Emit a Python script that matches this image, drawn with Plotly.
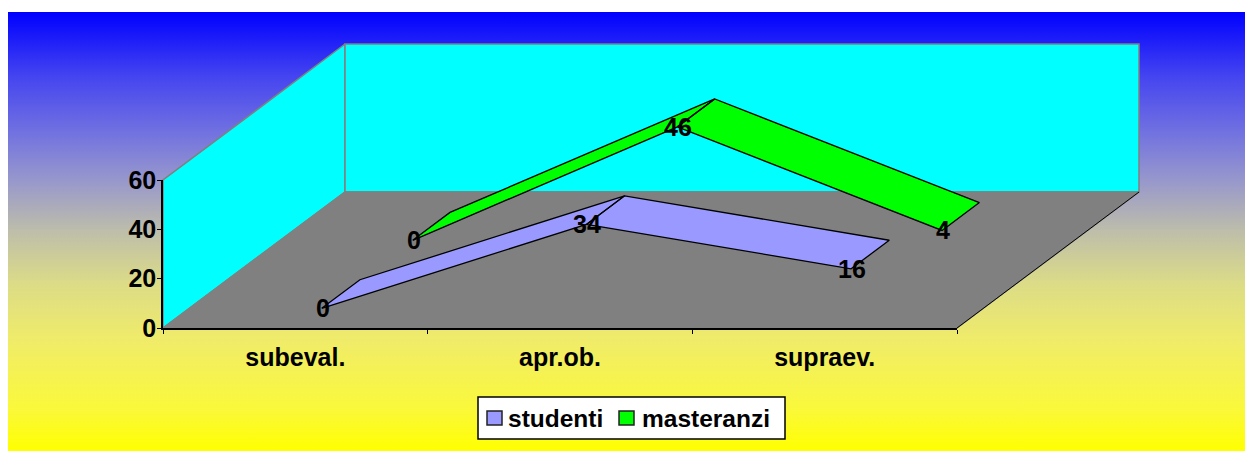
import plotly.graph_objects as go

CATEGORIES = ["subeval.", "apr.ob.", "supraev."]
STUDENTI = [0, 34, 16]
MASTERANZI = [0, 46, 4]
Y_TICKS = [0, 20, 40, 60]

WIDTH, HEIGHT = 1245, 451
FONT = "Liberation Sans"
FONT_SIZE = 25

# front plane of the 3d box, in pixels
LEFT, RIGHT, BOTTOM, TOP = 163, 957, 328, 180
CAT_PX = (RIGHT - LEFT) / 3
VAL_PX = (BOTTOM - TOP) / 60

# one full step back into the box, in category / value units
DEPTH_X = 182 / CAT_PX
DEPTH_Y = 136 / VAL_PX


def project(cat, value, depth):
    return cat + depth * DEPTH_X, value + depth * DEPTH_Y


def polygon(points):
    xs, ys = zip(*(project(*p) for p in points + points[:1]))
    return list(xs), list(ys)


def ribbon(values, front, back):
    xs, ys = [], []
    for i in range(len(values) - 1):
        px, py = polygon([
            (i + 0.5, values[i], front),
            (i + 0.5, values[i], back),
            (i + 1.5, values[i + 1], back),
            (i + 1.5, values[i + 1], front),
        ])
        xs += px + [None]
        ys += py + [None]
    return xs, ys


fig = go.Figure()

# Background
fig.add_trace(go.Scatter(
    x=[(8 - LEFT) / CAT_PX, (WIDTH - LEFT) / CAT_PX, (WIDTH - LEFT) / CAT_PX, (8 - LEFT) / CAT_PX],
    y=[(BOTTOM - 12) / VAL_PX, (BOTTOM - 12) / VAL_PX, (BOTTOM - HEIGHT) / VAL_PX, (BOTTOM - HEIGHT) / VAL_PX],
    mode="none",
    fill="toself",
    fillgradient=dict(
        type="vertical",
        colorscale=[
            [0, "rgb(255,255,0)"],
            [0.1, "rgb(250,248,60)"],
            [0.25, "rgb(240,236,105)"],
            [0.38, "rgb(220,220,135)"],
            [0.5, "rgb(190,190,170)"],
            [0.62, "rgb(150,150,205)"],
            [0.73, "rgb(112,112,225)"],
            [0.85, "rgb(70,70,240)"],
            [1, "rgb(0,0,255)"],
        ],
    ),
    hoverinfo="skip",
))

# Walls and floor
for points, color in [
    ([(0, 0, 0), (0, 60, 0), (0, 60, 1), (0, 0, 1)], "#00ffff"),
    ([(0, 0, 1), (0, 60, 1), (3, 60, 1), (3, 0, 1)], "#00ffff"),
    ([(0, 0, 0), (0, 0, 1), (3, 0, 1), (3, 0, 0)], "#808080"),
]:
    xs, ys = polygon(points)
    fig.add_trace(go.Scatter(
        x=xs, y=ys, mode="lines", fill="toself", fillcolor=color,
        line=dict(color="#808080", width=1.5), hoverinfo="skip",
    ))

xs, ys = zip(project(3, 0, 0), project(3, 0, 1))
fig.add_trace(go.Scatter(x=xs, y=ys, mode="lines", line=dict(color="black", width=1), hoverinfo="skip"))

# Series ribbons
SERIES = [
    ("studenti", STUDENTI, "#9999ff", 0.145, 0.355),
    ("masteranzi", MASTERANZI, "#00ff00", 0.645, 0.85),
]
annotations = []
for name, values, color, front, back in SERIES:
    xs, ys = ribbon(values, front, back)
    fig.add_trace(go.Scatter(
        x=xs, y=ys, name=name, mode="lines", fill="toself", fillcolor=color,
        line=dict(color="black", width=1.3),
    ))
    for i, v in enumerate(values):
        x, y = project(i + 0.5, v, front)
        annotations.append(dict(
            x=x, y=y, text=str(v), showarrow=False, xshift=1,
            font=dict(family=FONT, size=FONT_SIZE, color="black", weight="bold"),
        ))

# Real axes on the front plane
fig.add_trace(go.Scatter(
    x=CATEGORIES, y=STUDENTI, xaxis="x2", yaxis="y2", mode="lines",
    line=dict(color="rgba(0,0,0,0)"), hoverinfo="skip",
))

# Legend
shapes = [dict(
    type="rect", xref="paper", yref="paper",
    x0=478 / WIDTH, x1=785 / WIDTH, y0=1 - 439 / HEIGHT, y1=1 - 397 / HEIGHT,
    fillcolor="white", line=dict(color="black", width=1.5),
)]
for (name, _, color, _, _), swatch, label in zip(SERIES, [487, 619], [506, 640]):
    shapes.append(dict(
        type="rect", xref="paper", yref="paper",
        x0=swatch / WIDTH, x1=(swatch + 15) / WIDTH, y0=1 - 425 / HEIGHT, y1=1 - 411 / HEIGHT,
        fillcolor=color, line=dict(color="#222222", width=1.5),
    ))
    annotations.append(dict(
        xref="paper", yref="paper", x=label / WIDTH, y=1 - 418 / HEIGHT,
        xanchor="left", yanchor="middle", text=name, showarrow=False,
        font=dict(family=FONT, size=24.5, color="black", weight="bold"),
    ))

hidden = dict(visible=False, showgrid=False, zeroline=False)
tick_font = dict(family=FONT, size=FONT_SIZE, color="black", weight="bold")
fig.update_layout(
    template="none",
    width=WIDTH,
    height=HEIGHT,
    autosize=False,
    margin=dict(l=0, r=0, t=0, b=0),
    paper_bgcolor="white",
    plot_bgcolor="rgba(0,0,0,0)",
    showlegend=False,
    annotations=annotations,
    shapes=shapes,
    xaxis=dict(hidden, domain=[0, 1], range=[-LEFT / CAT_PX, (WIDTH - LEFT) / CAT_PX]),
    yaxis=dict(hidden, domain=[0, 1], range=[(BOTTOM - HEIGHT) / VAL_PX, BOTTOM / VAL_PX]),
    xaxis2=dict(
        domain=[LEFT / WIDTH, RIGHT / WIDTH], anchor="y2", type="category",
        categoryorder="array", categoryarray=CATEGORIES, range=[-0.5, 2.5],
        tickson="boundaries", ticks="outside", ticklen=4, tickwidth=1, tickcolor="black",
        showline=True, linecolor="black", linewidth=2, showgrid=False, zeroline=False,
        tickfont=tick_font, automargin=False, ticklabelstandoff=6,
    ),
    yaxis2=dict(
        domain=[1 - BOTTOM / HEIGHT, 1 - TOP / HEIGHT], anchor="x2", range=[0, 60],
        tickvals=Y_TICKS, ticks="outside", ticklen=4, tickwidth=1, tickcolor="black",
        showline=True, linecolor="black", linewidth=1.5, showgrid=False, zeroline=False,
        tickfont=tick_font, automargin=False, ticklabelstandoff=-4,
    ),
)

fig.write_html("out.html", config=dict(displayModeBar=False),
               post_script="document.body.style.margin='0';")
